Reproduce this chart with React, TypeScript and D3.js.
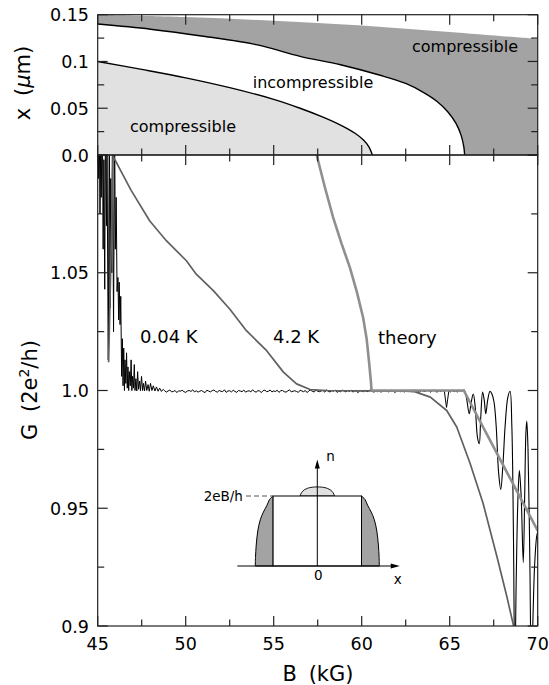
import React from 'react';
import * as d3 from 'd3';

const W = 549;
const H = 685;
const FONT = 'DejaVu Sans, sans-serif';

// ---- upper panel: strip positions x (µm) versus field B (kG)
const edgeB = [45, 50, 55, 60, 65, 70];
const edgeX = [0.15, 0.1475, 0.1435, 0.1385, 0.1315, 0.124];

const outerB = [45, 48, 51, 54, 56.5, 58.8, 61, 62.5, 63.5, 64.3, 64.9, 65.35, 65.65, 65.8, 65.85];
const outerX = [0.14, 0.1345, 0.127, 0.118, 0.1055, 0.0965, 0.0855, 0.0765, 0.067, 0.057, 0.046, 0.034, 0.021, 0.009, 0.0];

const innerB = [45, 47.5, 50, 52.5, 55, 56.5, 57.8, 58.8, 59.6, 60.1, 60.4, 60.55, 60.6];
const innerX = [0.1, 0.0915, 0.0825, 0.072, 0.0595, 0.05, 0.0405, 0.032, 0.0235, 0.016, 0.009, 0.003, 0.0];

// ---- lower panel: conductance G (2e^2/h) versus B (kG)
// 0.04 K trace, low-field fluctuations
const coldLowB = [45.0, 45.04, 45.08, 45.13, 45.17, 45.2, 45.26, 45.31, 45.35, 45.4, 45.44, 45.5, 45.53, 45.6, 45.66, 45.7, 45.74, 45.8, 45.84, 45.9, 45.96, 46.0, 46.05, 46.1, 46.15, 46.19, 46.22, 46.27, 46.31, 46.36, 46.4, 46.44, 46.48, 46.52, 46.55, 46.6, 46.64, 46.68, 46.72, 46.76, 46.8, 46.85, 46.9, 46.94, 46.98, 47.03, 47.08, 47.12, 47.17, 47.22, 47.27, 47.32, 47.38, 47.43, 47.49, 47.55, 47.6, 47.66, 47.72, 47.79, 47.86, 47.93, 48.0, 48.08, 48.16, 48.25, 48.34, 48.43, 48.52, 48.62, 48.72];
const coldLowG = [1.115, 1.09, 1.12, 1.075, 1.105, 1.082, 1.12, 1.06, 1.098, 1.043, 1.115, 1.07, 1.1, 1.013, 1.12, 1.035, 1.09, 1.05, 1.12, 1.025, 1.115, 1.06, 1.082, 1.042, 1.048, 1.03, 1.046, 1.028, 1.04, 1.006, 1.022, 1.002, 1.018, 1.0, 1.013, 1.003, 1.016, 1.001, 1.01, 1.0, 1.008, 1.002, 1.013, 1.0, 1.006, 1.001, 1.011, 1.0, 1.005, 0.9998, 1.008, 1.0005, 1.004, 0.9999, 1.006, 1.0, 1.003, 0.9998, 1.004, 1.0, 1.0025, 0.9997, 1.003, 1.0, 1.002, 0.9998, 1.0015, 0.9997, 1.001, 0.9996, 1.0005];

// 0.04 K trace on the plateau, sampled every 0.1 kG from 48.8 kG
const plateauStart = 48.8;
const plateauStep = 0.1;
const coldPlateauG = [
  0.9999, 0.9993, 0.9998, 1.0002, 0.9994, 0.9996, 1.0, 0.9991, 0.9999, 0.9997, 1.0001, 0.9995, 0.9992, 0.9998, 1.0, 0.9996, 1.0003, 0.9994, 0.9999, 0.9993,
  0.9997, 1.0, 0.9995, 0.9991, 1.0001, 0.9998, 0.9994, 0.9999, 1.0002, 0.9996, 0.9993, 1.0, 0.9997, 0.9995, 1.0003, 0.9992, 0.9998, 0.9999, 0.9994, 1.0001,
  0.9996, 0.9992, 1.0, 0.9998, 0.9995, 1.0002, 0.9993, 0.9997, 0.9999, 0.9994, 1.0003, 0.9996, 0.9993, 0.9999, 0.9998, 0.9991, 1.0, 1.0001, 0.9995, 0.9997,
  1.0002, 0.9994, 0.9998, 0.9996, 1.0001, 0.9992, 0.9999, 1.0, 0.9995, 0.9993, 0.9998, 1.0003, 0.9994, 0.9997, 0.9999, 0.9996, 0.9992, 1.0001, 0.9998, 0.9995,
  1.0, 0.9991, 0.9999, 1.0002, 0.9996, 0.9994, 1.0001, 0.9997, 0.9995, 0.9998, 1.0, 0.9993, 1.0003, 0.9996, 0.9994, 0.9999, 0.9997, 1.0002, 0.9992, 0.9998,
  0.9995, 1.0001, 0.9998, 0.9994, 1.0, 0.9996, 1.0002, 0.9993, 0.9999, 0.9997, 0.9991, 1.0, 0.9998, 0.9995, 1.0001, 0.9994, 0.9999, 1.0003, 0.9996, 0.9993,
  0.9998, 0.9995, 1.0002, 0.9992, 1.0, 0.9997, 0.9999, 0.9994, 0.9996, 1.0001, 0.9998, 0.9991, 1.0, 0.9999, 0.9995, 1.0002, 0.9993, 0.9997, 0.9998, 0.9996,
  1.0, 0.9994, 1.0003, 0.9995, 0.9998, 0.9992, 1.0001, 0.9997, 0.9996, 0.9999, 1.0, 0.9993, 0.9998, 1.0002, 0.9995, 0.9994, 0.9999, 0.9996, 1.0001, 0.9995,
];

// 0.04 K trace: dip near 64.8 kG and the high-field oscillations
const coldHighB = [64.7, 64.76, 64.82, 64.88, 64.95, 65.05, 65.15, 65.25, 65.35, 65.45, 65.55, 65.65, 65.75, 65.82, 65.95, 66.11, 66.22, 66.34, 66.45, 66.58, 66.68, 66.76, 66.87, 66.96, 67.05, 67.16, 67.29, 67.4, 67.52, 67.64, 67.78, 67.9, 68.02, 68.15, 68.3, 68.43, 68.53, 68.62, 68.7, 68.78, 68.88, 68.96, 69.06, 69.18, 69.26, 69.33, 69.38, 69.45, 69.55, 69.64, 69.72, 69.82, 69.94, 70.0];
const coldHighG = [0.9997, 0.996, 0.9928, 0.996, 0.9998, 0.9994, 1.0001, 0.9995, 0.9999, 0.9993, 1.0002, 0.9996, 1.0, 1.0002, 0.997, 0.9901, 0.995, 0.9985, 0.993, 0.98, 0.9774, 0.988, 0.9993, 0.996, 0.9901, 0.996, 0.9997, 0.9985, 0.995, 0.985, 0.965, 0.958, 0.968, 0.985, 0.997, 0.9997, 0.985, 0.94, 0.88, 0.92, 0.955, 0.966, 0.955, 0.927, 0.955, 0.982, 0.987, 0.975, 0.93, 0.88, 0.9, 0.925, 0.938, 0.94];

// 4.2 K trace
const warmB = [45.62, 45.75, 45.87, 46.9, 47.96, 48.9, 50.04, 50.6, 51.57, 52.5, 53.45, 54.6, 55.55, 56.3, 57.07, 58.0, 60.0, 62.0, 63.0, 63.9, 64.83, 65.4, 66.16, 66.9, 67.7, 68.25, 68.6, 68.7];
const warmG = [1.012, 1.055, 1.0995, 1.085, 1.072, 1.0636, 1.0551, 1.0494, 1.0424, 1.0346, 1.0254, 1.0169, 1.0078, 1.0028, 1.0004, 1.0, 0.9998, 0.9999, 0.9995, 0.9972, 0.9915, 0.9845, 0.969, 0.952, 0.929, 0.9124, 0.901, 0.897];

// theory
const theoryB = [57.44, 57.9, 58.38, 58.85, 59.33, 59.72, 60.08, 60.28, 60.42, 60.52, 60.56, 65.8, 70.0];
const theoryG = [1.1, 1.0865, 1.0734, 1.0625, 1.0522, 1.042, 1.031, 1.022, 1.012, 1.004, 1.0, 1.0, 0.9405];

// ---- inset: density profile n(x), half of it (x >= 0)
const profileX = [0.713, 0.77, 0.81, 0.87, 0.92, 0.96, 0.985, 0.997, 1.0];
const profileN = [1.0, 0.95, 0.87, 0.77, 0.66, 0.5, 0.3, 0.12, 0.0];
const bumpX = [-0.28, -0.24, -0.16, 0.0, 0.16, 0.24, 0.28];
const bumpN = [1.0, 1.065, 1.11, 1.13, 1.11, 1.065, 1.0];

// ---- axes
const xMajor = [45, 50, 55, 60, 65, 70];
const xMinor = [47.5, 52.5, 57.5, 62.5, 67.5];
const xLabels = ['45', '50', '55', '60', '65', '70'];
const topMajor = [0, 0.05, 0.1, 0.15];
const topMinor = [0.025, 0.075, 0.125];
const topLabels = ['0.0', '0.05', '0.1', '0.15'];
const botMajor = [0.9, 0.95, 1.0, 1.05, 1.1];
const botMinor = [0.925, 0.975, 1.025, 1.075];
const botLabels = ['0.9', '0.95', '1.0', '1.05'];

const L = 97.7;
const R = 537.7;
const T1 = 14.7;
const MID = 155;
const B2 = 626;

const xs = d3.scaleLinear().domain([45, 70]).range([L, R]);
const yTop = d3.scaleLinear().domain([0, 0.15]).range([MID, T1]);
const yBot = d3.scaleLinear().domain([0.9, 1.1]).range([B2, MID]);

const ix = d3.scaleLinear().domain([-1, 1]).range([255.3, 379.3]);
const iy = d3.scaleLinear().domain([0, 1]).range([566, 496]);

const zip = (a: number[], b: number[]) => a.map((v, i) => [v, b[i]] as [number, number]);

export default function App() {
  const topArea = d3
    .area<[number, number]>()
    .x((d) => xs(d[0]))
    .y0(yTop(0))
    .y1((d) => yTop(d[1]))
    .curve(d3.curveCatmullRom.alpha(0.5));
  const topLine = d3
    .line<[number, number]>()
    .x((d) => xs(d[0]))
    .y((d) => yTop(d[1]))
    .curve(d3.curveCatmullRom.alpha(0.5));

  const botLinear = d3
    .line<[number, number]>()
    .x((d) => xs(d[0]))
    .y((d) => yBot(d[1]));
  const botSmooth = d3
    .line<[number, number]>()
    .x((d) => xs(d[0]))
    .y((d) => yBot(d[1]))
    .curve(d3.curveCatmullRom.alpha(0.5));

  const coldLow = zip(coldLowB, coldLowG);
  const plateau = coldPlateauG.map((g, i) => [plateauStart + i * plateauStep, g] as [number, number]);
  const coldFirst = [...coldLow, ...plateau, ...zip(coldHighB, coldHighG).slice(0, 13)];
  const coldOsc = zip(coldHighB, coldHighG).slice(12);

  const warmPath = botLinear(zip(warmB, warmG));

  // inset shapes
  const insetLine = d3
    .line<[number, number]>()
    .x((d) => ix(d[0]))
    .y((d) => iy(d[1]))
    .curve(d3.curveCatmullRom.alpha(0.5));
  const rightProfile = zip(profileX, profileN);
  const leftProfile = rightProfile.map(([px, pn]) => [-px, pn] as [number, number]);
  const rightFill = insetLine(rightProfile) + `L${ix(0.713)},${iy(0)}Z`;
  const leftFill = insetLine(leftProfile) + `L${ix(-0.713)},${iy(0)}Z`;
  const bumpPath = insetLine(zip(bumpX, bumpN)) + 'Z';

  const ticks: JSX.Element[] = [];
  const tk = (x1: number, y1: number, x2: number, y2: number, k: string) =>
    ticks.push(<line key={k} x1={x1} y1={y1} x2={x2} y2={y2} />);
  const MAJ = 10;
  const MIN = 6.5;
  [...xMajor.map((v) => [v, MAJ]), ...xMinor.map((v) => [v, MIN])].forEach(([v, len], i) => {
    const px = xs(v);
    tk(px, T1, px, T1 + len, `xa${i}`);
    tk(px, MID, px, MID - len, `xb${i}`);
    tk(px, MID, px, MID + len, `xc${i}`);
    tk(px, B2, px, B2 - len, `xd${i}`);
  });
  [...topMajor.map((v) => [v, MAJ]), ...topMinor.map((v) => [v, MIN])].forEach(([v, len], i) => {
    const py = yTop(v);
    tk(L, py, L + len, py, `ta${i}`);
    tk(R, py, R - len, py, `tb${i}`);
  });
  [...botMajor.map((v) => [v, MAJ]), ...botMinor.map((v) => [v, MIN])].forEach(([v, len], i) => {
    const py = yBot(v);
    tk(L, py, L + len, py, `ba${i}`);
    tk(R, py, R - len, py, `bb${i}`);
  });

  const axisTop = iy(1.52);
  const axisRight = ix(1.33);

  return (
    <svg
      width={W}
      height={H}
      viewBox={`0 0 ${W} ${H}`}
      style={{ position: 'absolute', left: 0, top: 0, background: '#fff', display: 'block' }}
      fontFamily={FONT}
    >
      <defs>
        <clipPath id="clipTop">
          <rect x={L} y={T1} width={R - L} height={MID - T1} />
        </clipPath>
        <clipPath id="clipBot">
          <rect x={L} y={MID} width={R - L} height={B2 - MID} />
        </clipPath>
      </defs>

      {/* upper panel: strips */}
      <g clipPath="url(#clipTop)">
        <path d={topArea(zip(edgeB, edgeX)) ?? ''} fill="#a3a3a3" />
        <path d={topArea(zip(outerB, outerX)) ?? ''} fill="#fff" />
        <path d={topArea(zip(innerB, innerX)) ?? ''} fill="#e1e1e1" />
        <path d={topLine(zip(outerB, outerX)) ?? ''} fill="none" stroke="#000" strokeWidth={1.4} />
        <path d={topLine(zip(innerB, innerX)) ?? ''} fill="none" stroke="#000" strokeWidth={1.4} />
      </g>
      <g fontSize={16} fill="#000" textAnchor="middle">
        <text x={465} y={52}>compressible</text>
        <text x={313} y={88}>incompressible</text>
        <text x={183} y={132}>compressible</text>
      </g>

      {/* lower panel: traces */}
      <g clipPath="url(#clipBot)" fill="none" strokeLinejoin="round">
        <path d={botLinear(coldFirst) ?? ''} stroke="#000" strokeWidth={1} />
        <path d={botSmooth(coldOsc) ?? ''} stroke="#000" strokeWidth={1.1} />
        <path d={warmPath ?? ''} stroke="#606060" strokeWidth={1.7} />
        <path d={botLinear(zip(theoryB, theoryG)) ?? ''} stroke="#8f8f8f" strokeWidth={2.6} />
      </g>
      <g fontSize={18} fill="#000">
        <text x={140} y={343}>0.04 K</text>
        <text x={273} y={343}>4.2 K</text>
        <text x={378} y={344}>theory</text>
      </g>

      {/* inset */}
      <g stroke="#000" strokeWidth={1}>
        <path d={leftFill} fill="#a3a3a3" />
        <path d={rightFill} fill="#a3a3a3" />
        <path d={bumpPath} fill="#e1e1e1" strokeWidth={0.9} />
        <rect x={ix(-0.713)} y={iy(1)} width={ix(0.713) - ix(-0.713)} height={iy(0) - iy(1)} fill="#fff" />
        <line x1={ix(-1.29)} y1={iy(0)} x2={axisRight - 4} y2={iy(0)} />
        <line x1={ix(0)} y1={iy(0)} x2={ix(0)} y2={axisTop + 5} />
        <line x1={ix(-1.15)} y1={iy(1)} x2={ix(-0.713)} y2={iy(1)} stroke="#555" strokeDasharray="5,3" />
      </g>
      <path
        d={`M${axisRight},${iy(0)}L${axisRight - 9},${iy(0) - 2.5}L${axisRight - 9},${iy(0) + 2.5}Z`}
        fill="#000"
      />
      <path d={`M${ix(0)},${axisTop}L${ix(0) - 2.5},${axisTop + 9}L${ix(0) + 2.5},${axisTop + 9}Z`} fill="#000" />
      <g fontSize={13.5} fill="#000">
        <text x={ix(-1.2)} y={iy(1) + 5} textAnchor="end">2eB/h</text>
        <text x={ix(0) + 1} y={580} textAnchor="middle">0</text>
        <text x={axisRight - 2} y={584} textAnchor="middle">x</text>
        <text x={ix(0) + 9} y={461}>n</text>
      </g>

      {/* frames and ticks */}
      <g stroke="#222" strokeWidth={1.2} fill="none">
        <rect x={L} y={T1} width={R - L} height={MID - T1} />
        <rect x={L} y={MID} width={R - L} height={B2 - MID} />
        {ticks}
      </g>

      {/* tick labels */}
      <g fontSize={17.5} fill="#000">
        {topMajor.map((v, i) => (
          <text key={`tl${i}`} x={89} y={yTop(v) + 6.5} textAnchor="end">
            {topLabels[i]}
          </text>
        ))}
        {botMajor.slice(0, 4).map((v, i) => (
          <text key={`bl${i}`} x={89} y={yBot(v) + 6.5} textAnchor="end">
            {botLabels[i]}
          </text>
        ))}
        {xMajor.map((v, i) => (
          <text key={`xl${i}`} x={xs(v)} y={650} textAnchor="middle">
            {xLabels[i]}
          </text>
        ))}
      </g>

      {/* axis titles */}
      <g fontSize={21} fill="#000" textAnchor="middle">
        <text x={318} y={681} wordSpacing={5}>
          B (kG)
        </text>
        <text transform="translate(30,83) rotate(-90)" wordSpacing={5}>
          x (<tspan fontStyle="italic">μ</tspan>m)
        </text>
        <text transform="translate(37,390) rotate(-90)" wordSpacing={5}>
          G (2e<tspan dy={-8} fontSize={14}>2</tspan>
          <tspan dy={8}>/h)</tspan>
        </text>
      </g>
    </svg>
  );
}
